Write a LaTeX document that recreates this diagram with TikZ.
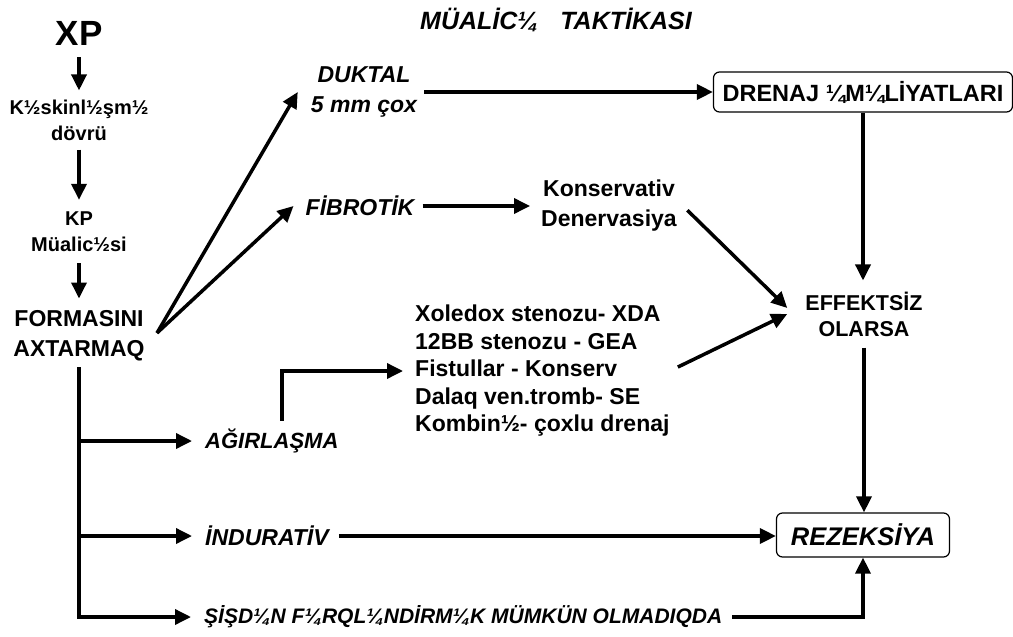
\documentclass[tikz,border=0pt]{standalone}
\usepackage{fontspec}
\setmainfont{Liberation Sans}
\usetikzlibrary{arrows.meta,calc}
\begin{document}
\begin{tikzpicture}[x=1pt,y=-1pt,
  ln/.style={line width=3.5pt},
  ar/.style={ln,-{Triangle[length=16pt,width=15pt]}},
  txt/.style={inner sep=0pt, align=center, font=\bfseries\fontsize{23}{30}\selectfont},
  stxt/.style={inner sep=0pt, align=center, font=\bfseries\fontsize{20}{26}\selectfont},
  itxt/.style={inner sep=0pt, align=center, font=\bfseries\itshape\fontsize{23}{30}\selectfont},
  rbox/.style={draw, line width=1.2pt, rounded corners=6pt}
]
\useasboundingbox (0,0) rectangle (1013,637);

% left column
\node[txt, font=\bfseries\fontsize{35}{40}\selectfont] (xp) at (79,33) {XP};
\node[stxt] (k1) at (79,120) {K½skinl½şm½\\dövrü};
\node[stxt] (kp) at (79,232) {KP\\Müalic½si};
\node[txt] (form) at (79,336) {FORMASINI\\AXTARMAQ};

% title
\node[itxt, font=\bfseries\itshape\fontsize{25}{30}\selectfont] (title) at (556,20) {MÜALİC¼\hspace{22pt}TAKTİKASI};

% branches
\node[itxt] (duk) at (364,92) {DUKTAL\\5 mm çox};
\node[itxt] (fib) at (360,206) {FİBROTİK};
\node[txt] (kons) at (609,206) {Konservativ\\Denervasiya};
\node[txt, align=left, font=\bfseries\fontsize{23}{27.5}\selectfont, anchor=west] (xole) at (415,371)
  {Xoledox stenozu- XDA\\12BB stenozu - GEA\\Fistullar - Konserv\\Dalaq ven.tromb- SE\\Kombin½- çoxlu drenaj};
\node[stxt, font=\bfseries\fontsize{21.5}{26}\selectfont, inner xsep=18pt, inner ysep=11pt] (eff) at (864,314) {EFFEKTSİZ\\OLARSA};
\node[rbox, txt, font=\bfseries\fontsize{23.5}{30}\selectfont, minimum width=299pt, minimum height=40pt] (dren) at (863,92) {DRENAJ ¼M¼LİYATLARI};
\node[rbox, itxt, font=\bfseries\itshape\fontsize{25.5}{30}\selectfont, minimum width=173pt, minimum height=44pt] (rez) at (863,535) {REZEKSİYA};
\node[itxt, font=\bfseries\itshape\fontsize{22}{30}\selectfont, anchor=west] (agir) at (205,441) {AĞIRLAŞMA};
\node[itxt, anchor=west] (indur) at (205,536) {İNDURATİV};
\node[itxt, font=\bfseries\itshape\fontsize{21}{26}\selectfont, anchor=west] (sisd) at (204,617) {ŞİŞD¼N F¼RQL¼NDİRM¼K MÜMKÜN OLMADIQDA};

\coordinate (apex) at (157,333);

% connectors
\draw[ar, shorten <=12pt, shorten >=9pt] (xp) -- (k1);
\draw[ar, shorten <=9pt, shorten >=12pt] (k1) -- (kp);
\draw[ar, shorten <=11pt, shorten >=12pt] (kp) -- (form);
\draw[ar] (apex) -- ([xshift=-13pt]duk.west);
\draw[ar] (apex) -- ([xshift=-12pt]fib.west);
\draw[ar, shorten <=7pt] (duk.east) -- (dren.west);
\draw[ar, shorten <=8pt, shorten >=11pt] (fib.east) -- (kons.west);
\draw[ar, shorten <=9pt] ([xshift=4pt,yshift=2pt]kons.east) -- ([yshift=6pt]eff.west);
\draw[ar, shorten <=9pt] (xole.east) -- (eff.west);
\draw[ar] (dren.south) -- (dren.south |- eff.north);
\draw[ar] (eff.south) -- (eff.south |- rez.north);
\draw[ar, shorten <=10pt] (indur.east) -- (indur.east -| rez.west);
\draw[ar, shorten <=10pt] (sisd.east) -| (rez.south);
\draw[ar, shorten <=8pt, shorten >=12pt] ([xshift=10pt]agir.north) |- (xole.west);
\draw[ar, shorten <=6pt, shorten >=13pt] (form.south) |- (sisd.west);
\draw[ar, shorten >=13pt] (form.south |- agir.west) -- (agir.west);
\draw[ar, shorten >=13pt] (form.south |- indur.west) -- (indur.west);
\end{tikzpicture}
\end{document}
